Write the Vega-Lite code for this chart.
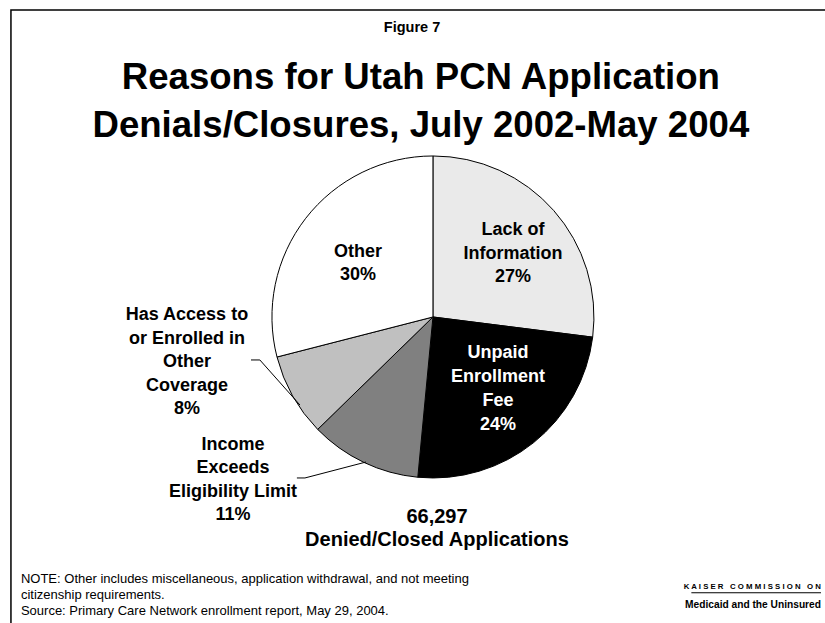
{
  "$schema": "https://vega.github.io/schema/vega-lite/v6.json",
  "width": 825,
  "height": 623,
  "autosize": {"type": "none"},
  "padding": 0,
  "background": "white",
  "config": {"view": {"stroke": null}},
  "datasets": {
    "slices": [
      {"reason": "Lack of Information", "pct": 27.0, "ord": 1},
      {"reason": "Unpaid Enrollment Fee", "pct": 24.5, "ord": 2},
      {"reason": "Income Exceeds Eligibility Limit", "pct": 11.2, "ord": 3},
      {"reason": "Has Access to or Enrolled in Other Coverage", "pct": 8.3, "ord": 4},
      {"reason": "Other", "pct": 29.0, "ord": 5}
    ],
    "labels": [
      {"reason": "Lack of Information", "label": "Lack of\nInformation\n27%", "u": 49.7, "v": 54.0},
      {"reason": "Unpaid Enrollment Fee", "label": "Unpaid\nEnrollment\nFee\n24%", "u": 40.4, "v": -22.4},
      {"reason": "Other", "label": "Other\n30%", "u": -46.6, "v": 40.4},
      {"reason": "Has Access to or Enrolled in Other Coverage", "label": "Has Access to\nor Enrolled in\nOther\nCoverage\n8%", "u": -152.8, "v": 1.2},
      {"reason": "Income Exceeds Eligibility Limit", "label": "Income\nExceeds\nEligibility Limit\n11%", "u": -124.2, "v": -79.5}
    ],
    "leaders": [
      {"line": "access", "ord": 1, "u": -113.0, "v": -26.7},
      {"line": "access", "ord": 2, "u": -107.5, "v": -26.7},
      {"line": "access", "ord": 3, "u": -82.6, "v": -54.7},
      {"line": "income", "ord": 1, "u": -84.5, "v": -100.0},
      {"line": "income", "ord": 2, "u": -79.5, "v": -100.0},
      {"line": "income", "ord": 3, "u": -41.6, "v": -90.1}
    ],
    "frame": [
      {"ord": 1, "u": 243.5, "v": 190.7},
      {"ord": 2, "u": -262.1, "v": 190.7},
      {"ord": 3, "u": -262.1, "v": -190.1}
    ]
  },
  "layer": [
    {
      "data": {"name": "frame"},
      "mark": {"type": "line", "color": "black", "strokeWidth": 1.5},
      "encoding": {
        "x": {"field": "u", "type": "quantitative", "axis": null, "scale": {"domain": [-268.9, 243.5], "nice": false, "zero": false}},
        "y": {"field": "v", "type": "quantitative", "axis": null, "scale": {"domain": [-190.1, 196.9], "nice": false, "zero": false}},
        "order": {"field": "ord"}
      }
    },
    {
      "data": {"name": "slices"},
      "mark": {"type": "arc", "radius": 161, "stroke": "black", "strokeWidth": 1},
      "encoding": {
        "theta": {"field": "pct", "type": "quantitative", "stack": true},
        "order": {"field": "ord"},
        "color": {
          "field": "reason", "type": "nominal", "legend": null,
          "scale": {
            "domain": ["Lack of Information", "Unpaid Enrollment Fee", "Income Exceeds Eligibility Limit", "Has Access to or Enrolled in Other Coverage", "Other"],
            "range": ["#eaeaea", "#000000", "#808080", "#c0c0c0", "#ffffff"]
          }
        },
        "x": {"datum": 0, "type": "quantitative", "axis": null, "scale": {"domain": [-268.9, 243.5], "nice": false, "zero": false}},
        "y": {"datum": 0, "type": "quantitative", "axis": null, "scale": {"domain": [-190.1, 196.9], "nice": false, "zero": false}}
      }
    },
    {
      "data": {"name": "leaders"},
      "mark": {"type": "line", "color": "black", "strokeWidth": 1},
      "encoding": {
        "x": {"field": "u", "type": "quantitative", "axis": null, "scale": {"domain": [-268.9, 243.5], "nice": false, "zero": false}},
        "y": {"field": "v", "type": "quantitative", "axis": null, "scale": {"domain": [-190.1, 196.9], "nice": false, "zero": false}},
        "detail": {"field": "line"},
        "order": {"field": "ord"}
      }
    },
    {
      "data": {"name": "labels"},
      "transform": [{"filter": "datum.reason !== 'Unpaid Enrollment Fee'"}],
      "mark": {"type": "text", "font": "Liberation Sans", "fontWeight": "bold", "fontSize": 18, "lineBreak": "\n", "lineHeight": 23.5, "align": "center", "baseline": "middle", "color": "black"},
      "encoding": {
        "x": {"field": "u", "type": "quantitative", "axis": null, "scale": {"domain": [-268.9, 243.5], "nice": false, "zero": false}},
        "y": {"field": "v", "type": "quantitative", "axis": null, "scale": {"domain": [-190.1, 196.9], "nice": false, "zero": false}},
        "text": {"field": "label"}
      }
    },
    {
      "data": {"name": "labels"},
      "transform": [{"filter": "datum.reason === 'Unpaid Enrollment Fee'"}],
      "mark": {"type": "text", "font": "Liberation Sans", "fontWeight": "bold", "fontSize": 18, "lineBreak": "\n", "lineHeight": 24, "align": "center", "baseline": "middle", "color": "white"},
      "encoding": {
        "x": {"field": "u", "type": "quantitative", "axis": null, "scale": {"domain": [-268.9, 243.5], "nice": false, "zero": false}},
        "y": {"field": "v", "type": "quantitative", "axis": null, "scale": {"domain": [-190.1, 196.9], "nice": false, "zero": false}},
        "text": {"field": "label"}
      }
    },
    {
      "data": {"values": [{"t": "Figure 7", "u": -13.0, "v": 179.5}]},
      "mark": {"type": "text", "font": "Liberation Sans", "fontWeight": "bold", "fontSize": 14.5, "align": "center", "baseline": "middle", "color": "black"},
      "encoding": {
        "x": {"field": "u", "type": "quantitative", "axis": null, "scale": {"domain": [-268.9, 243.5], "nice": false, "zero": false}},
        "y": {"field": "v", "type": "quantitative", "axis": null, "scale": {"domain": [-190.1, 196.9], "nice": false, "zero": false}},
        "text": {"field": "t"}
      }
    },
    {
      "data": {"values": [{"t": "Reasons for Utah PCN Application\nDenials/Closures, July 2002-May 2004", "u": -7.5, "v": 148.4}]},
      "mark": {"type": "text", "font": "Liberation Sans", "fontWeight": "bold", "fontSize": 36.6, "lineBreak": "\n", "lineHeight": 48, "align": "center", "baseline": "middle", "color": "black"},
      "encoding": {
        "x": {"field": "u", "type": "quantitative", "axis": null, "scale": {"domain": [-268.9, 243.5], "nice": false, "zero": false}},
        "y": {"field": "v", "type": "quantitative", "axis": null, "scale": {"domain": [-190.1, 196.9], "nice": false, "zero": false}},
        "text": {"field": "t"}
      }
    },
    {
      "data": {"values": [{"t": "66,297\nDenied/Closed Applications", "u": 2.5, "v": -124.2}]},
      "mark": {"type": "text", "font": "Liberation Sans", "fontWeight": "bold", "fontSize": 20, "lineBreak": "\n", "lineHeight": 23, "align": "center", "baseline": "middle", "color": "black"},
      "encoding": {
        "x": {"field": "u", "type": "quantitative", "axis": null, "scale": {"domain": [-268.9, 243.5], "nice": false, "zero": false}},
        "y": {"field": "v", "type": "quantitative", "axis": null, "scale": {"domain": [-190.1, 196.9], "nice": false, "zero": false}},
        "text": {"field": "t"}
      }
    },
    {
      "data": {"values": [{"t": "NOTE: Other includes miscellaneous, application withdrawal, and not meeting\ncitizenship requirements.\nSource: Primary Care Network enrollment report, May 29, 2004.", "u": -255.9, "v": -162.7}]},
      "mark": {"type": "text", "font": "Liberation Sans", "fontSize": 13, "lineBreak": "\n", "lineHeight": 16, "align": "left", "baseline": "middle", "color": "black"},
      "encoding": {
        "x": {"field": "u", "type": "quantitative", "axis": null, "scale": {"domain": [-268.9, 243.5], "nice": false, "zero": false}},
        "y": {"field": "v", "type": "quantitative", "axis": null, "scale": {"domain": [-190.1, 196.9], "nice": false, "zero": false}},
        "text": {"field": "t"}
      }
    },
    {
      "data": {"values": [{"t": "K A I S E R\u00a0\u00a0\u00a0C O M M I S S I O N\u00a0\u00a0\u00a0O N", "u": 241.0, "v": -167.5}]},
      "mark": {"type": "text", "font": "Liberation Sans", "fontWeight": "bold", "fontSize": 7.8, "align": "right", "baseline": "middle", "color": "black"},
      "encoding": {
        "x": {"field": "u", "type": "quantitative", "axis": null, "scale": {"domain": [-268.9, 243.5], "nice": false, "zero": false}},
        "y": {"field": "v", "type": "quantitative", "axis": null, "scale": {"domain": [-190.1, 196.9], "nice": false, "zero": false}},
        "text": {"field": "t"}
      }
    },
    {
      "data": {"values": [{"u": 160.5, "u2": 241.0, "v": -171.3}]},
      "mark": {"type": "rule", "color": "black", "strokeWidth": 1.2},
      "encoding": {
        "x": {"field": "u", "type": "quantitative", "axis": null, "scale": {"domain": [-268.9, 243.5], "nice": false, "zero": false}},
        "x2": {"field": "u2"},
        "y": {"field": "v", "type": "quantitative", "axis": null, "scale": {"domain": [-190.1, 196.9], "nice": false, "zero": false}}
      }
    },
    {
      "data": {"values": [{"t": "Medicaid and the Uninsured", "u": 241.0, "v": -178.9}]},
      "mark": {"type": "text", "font": "Liberation Sans", "fontWeight": "bold", "fontSize": 10.2, "align": "right", "baseline": "middle", "color": "black"},
      "encoding": {
        "x": {"field": "u", "type": "quantitative", "axis": null, "scale": {"domain": [-268.9, 243.5], "nice": false, "zero": false}},
        "y": {"field": "v", "type": "quantitative", "axis": null, "scale": {"domain": [-190.1, 196.9], "nice": false, "zero": false}},
        "text": {"field": "t"}
      }
    }
  ]
}
